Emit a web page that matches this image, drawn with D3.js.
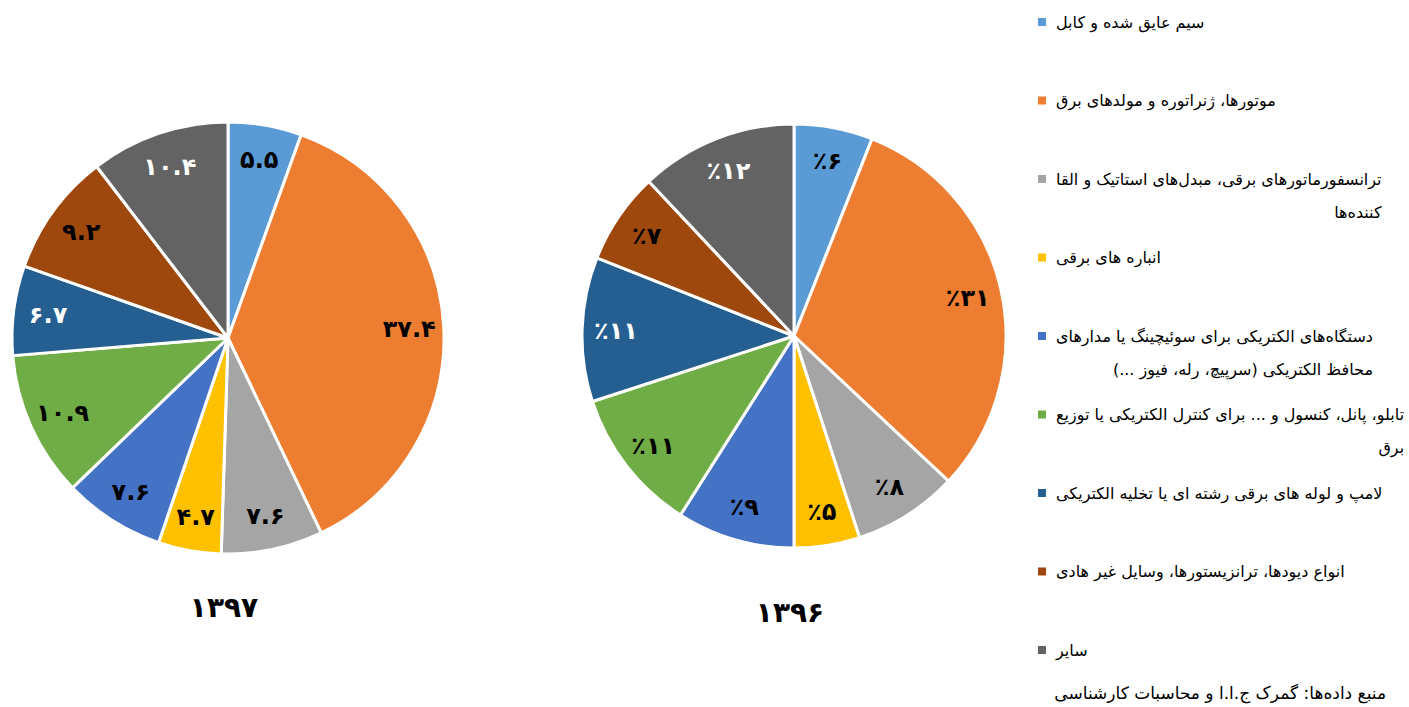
<!DOCTYPE html>
<html>
<head>
<meta charset="utf-8">
<script src="https://cdn.jsdelivr.net/npm/d3@7"></script>
<style>
  body { margin: 0; background: #fff; }
  text { font-family: "DejaVu Sans", sans-serif; }
</style>
</head>
<body>
<div id="chart"></div>
<script>
const categories = [
  ['سیم عایق شده و کابل'],
  ['موتورها، ژنراتوره و مولدهای برق'],
  ['ترانسفورماتورهای برقی، مبدل‌های استاتیک و القا', 'کننده‌ها'],
  ['انباره های برقی'],
  ['دستگاه‌های الکتریکی برای سوئیچینگ یا مدارهای', 'محافظ الکتریکی (سرپیچ، رله، فیوز ...)'],
  ['تابلو، پانل، کنسول و ... برای کنترل الکتریکی یا توزیع', 'برق'],
  ['لامپ و لوله های برقی رشته ای یا تخلیه الکتریکی'],
  ['انواع دیودها، ترانزیستورها، وسایل غیر هادی'],
  ['سایر']
];
const colors = ['#5B9BD5', '#ED7D31', '#A5A5A5', '#FFC000', '#4472C4', '#70AD47', '#255E91', '#9E480E', '#636363'];
const labelColors = ['#000', '#000', '#000', '#000', '#000', '#000', '#fff', '#000', '#fff'];

const values1397 = [5.5, 37.4, 7.6, 4.7, 7.6, 10.9, 6.7, 9.2, 10.4];
const values1396 = [6, 31, 8, 5, 9, 11, 11, 7, 12];
const yearLabels = ['۱۳۹۷', '۱۳۹۶'];
const sourceText = 'منبع داده‌ها: گمرک ج.ا.ا و محاسبات کارشناسی';

const W = 1409, H = 707;
const faDigits = '۰۱۲۳۴۵۶۷۸۹';
const toFa = s => String(s).replace(/[0-9]/g, d => faDigits[+d]);

const svg = d3.select('#chart').append('svg')
  .attr('width', W)
  .attr('height', H);

const pies = [
  { values: values1397, cx: 228, cy: 338, r: 216, fmt: v => toFa(v.toFixed(1)), title: yearLabels[0], ty: 607 },
  { values: values1396, cx: 794, cy: 336, r: 212, fmt: v => '٪' + toFa(v), title: yearLabels[1], ty: 612 }
];

const pie = d3.pie().sort(null).value(d => d);

pies.forEach(p => {
  const g = svg.append('g').attr('transform', `translate(${p.cx},${p.cy})`);
  const arc = d3.arc().innerRadius(0).outerRadius(p.r);
  const labelArc = d3.arc().innerRadius(p.r * 0.84).outerRadius(p.r * 0.84);
  const arcs = pie(p.values);

  g.selectAll('path')
    .data(arcs)
    .join('path')
    .attr('d', arc)
    .attr('fill', (d, i) => colors[i])
    .attr('stroke', '#fff')
    .attr('stroke-width', 3)
    .attr('stroke-linejoin', 'round');

  g.selectAll('text.lbl')
    .data(arcs)
    .join('text')
    .attr('class', 'lbl')
    .attr('transform', d => `translate(${labelArc.centroid(d)})`)
    .attr('text-anchor', 'middle')
    .attr('dy', '0.35em')
    .attr('font-size', 24)
    .attr('font-weight', 'bold')
    .attr('fill', (d, i) => labelColors[i])
    .text(d => p.fmt(d.data));

  svg.append('text')
    .attr('x', p.cx - 4)
    .attr('y', p.ty)
    .attr('text-anchor', 'middle')
    .attr('dy', '0.35em')
    .attr('font-size', 28)
    .attr('font-weight', 'bold')
    .text(p.title);
});

// legend
const legend = svg.append('g').attr('class', 'legend');
const lx = 1042, textX = 1056, lineGap = 33;

categories.forEach((lines, i) => {
  const y = 22 + i * 78.5;
  const item = legend.append('g');
  item.append('rect')
    .attr('x', lx - 4)
    .attr('y', y - 4)
    .attr('width', 8)
    .attr('height', 8)
    .attr('fill', colors[i]);

  const texts = lines.map((t, j) => item.append('text')
    .attr('y', y + j * lineGap)
    .attr('dy', '0.35em')
    .attr('direction', 'rtl')
    .attr('text-anchor', 'start')
    .attr('font-size', 16)
    .attr('fill', '#000')
    .text(t));
  const maxW = d3.max(texts, t => t.node().getComputedTextLength());
  texts.forEach(t => t.attr('x', textX + maxW));
});

svg.append('text')
  .attr('x', 1386)
  .attr('y', 693)
  .attr('dy', '0.35em')
  .attr('direction', 'rtl')
  .attr('text-anchor', 'start')
  .attr('font-size', 17)
  .attr('fill', '#000')
  .text(sourceText);
</script>
</body>
</html>
